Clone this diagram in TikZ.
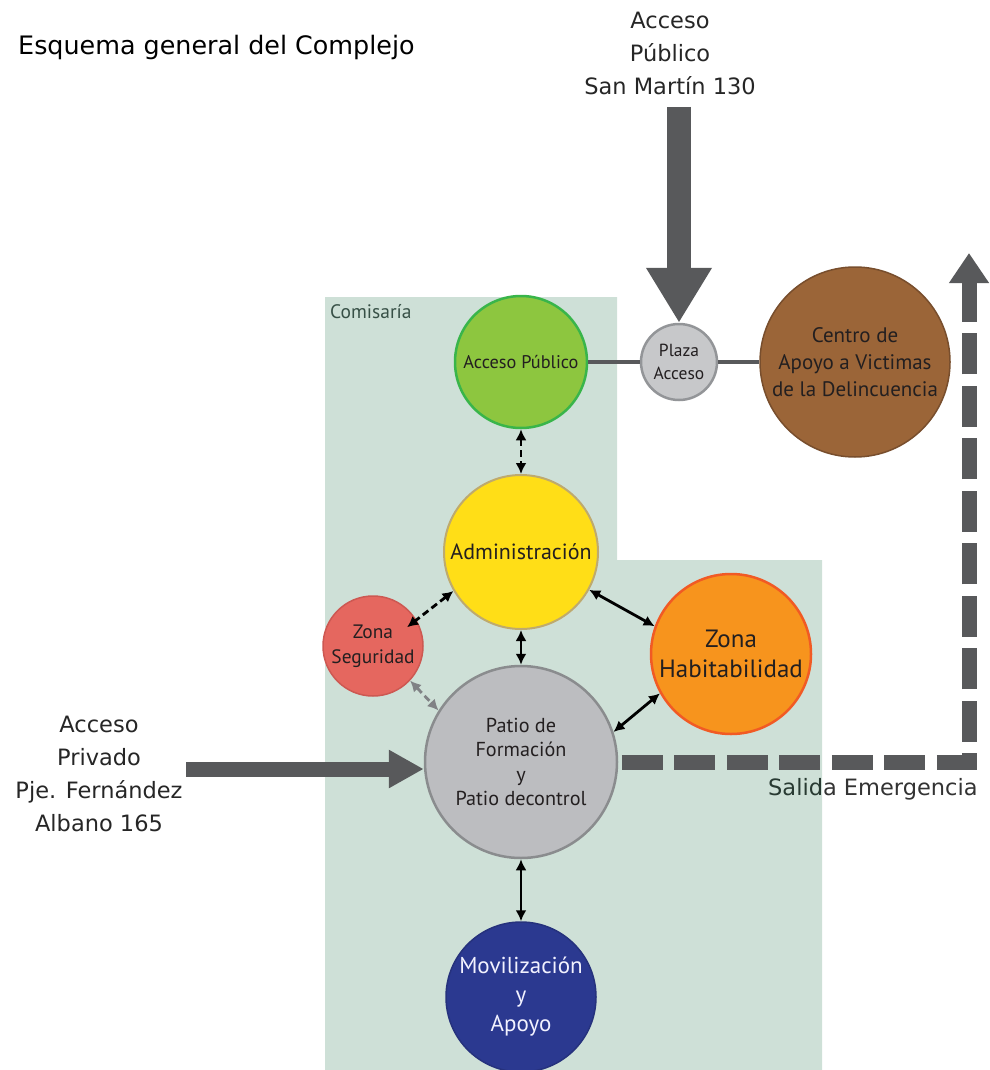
\documentclass[tikz,border=0pt]{standalone}
\usepackage{fontspec}
\setmainfont{DejaVu Sans}
\newfontfamily\innerfont{PT Sans}
\usetikzlibrary{arrows.meta,calc}
\definecolor{bgc}{RGB}{206,224,215}
\definecolor{darkg}{RGB}{88,89,91}
\definecolor{txt}{RGB}{35,31,32}
\definecolor{apfill}{RGB}{141,198,63}
\definecolor{apdraw}{RGB}{57,181,74}
\definecolor{pzfill}{RGB}{199,200,202}
\definecolor{pzdraw}{RGB}{147,149,152}
\definecolor{cafill}{RGB}{155,101,56}
\definecolor{cadraw}{RGB}{120,78,45}
\definecolor{adfill}{RGB}{255,222,23}
\definecolor{addraw}{RGB}{190,170,110}
\definecolor{zsfill}{RGB}{229,103,95}
\definecolor{zsdraw}{RGB}{205,88,82}
\definecolor{zhfill}{RGB}{247,148,29}
\definecolor{zhdraw}{RGB}{241,90,36}
\definecolor{ptfill}{RGB}{188,189,192}
\definecolor{ptdraw}{RGB}{138,140,142}
\definecolor{mvfill}{RGB}{43,57,144}
\definecolor{mvdraw}{RGB}{38,50,125}
\definecolor{comtxt}{RGB}{55,80,70}
\definecolor{saltxt}{RGB}{40,58,50}
\definecolor{gconc}{RGB}{128,130,133}
\tikzset{
  circ/.style={circle, inner sep=0pt, align=center, text=txt},
  outer/.style={align=center, text=black!85},
  conn/.style={black, line width=2.8pt, {Latex[length=11pt,width=11pt]}-{Latex[length=11pt,width=11pt]}},
  dconn/.style={conn, dash pattern=on 7pt off 4pt},
  gconn/.style={dconn, draw=gconc},
  link/.style={draw=darkg, line width=4.5pt},
  bigarrow/.style={draw=darkg},
}
\begin{document}
\begin{tikzpicture}[x=1pt,y=-1pt]
\useasboundingbox (0,0) rectangle (989,1070);
% background zone
\fill[bgc] (325,297) -- (617,297) -- (617,560) -- (822,560) -- (822,1070) -- (325,1070) -- cycle;
\node[anchor=base west, inner sep=0pt, text=comtxt, font=\innerfont\fontsize{19.5}{22}\selectfont] (com) at (330,318) {Comisaría};
% title
\node[anchor=base west, font=\fontsize{25.4}{30}\selectfont, inner sep=0pt] (title) at (18,55) {Esquema general del Complejo};
% outer labels
\node[outer, font=\fontsize{22.5}{33}\selectfont] (tpub) at (670,53.5) {Acceso\\Público\\San Martín 130};
\node[outer, font=\fontsize{22.5}{33}\selectfont] (tpriv) at (99,773.5) {Acceso\\Privado\\Pje. Fernández\\Albano 165};
% circles
\node[circ, minimum size=132pt, fill=apfill, draw=apdraw, line width=2.5pt, font=\innerfont\fontsize{18.3}{20}\selectfont] (ap) at (521,362) {Acceso Público};
\node[circ, minimum size=76pt, fill=pzfill, draw=pzdraw, line width=2.5pt, font=\innerfont\fontsize{17.5}{23}\selectfont] (pz) at (679,362) {Plaza\\Acceso};
\node[circ, minimum size=190pt, fill=cafill, draw=cadraw, line width=1.5pt, font=\innerfont\fontsize{21}{27}\selectfont] (ca) at (855,362) {Centro de\\Apoyo a Victimas\\de la Delincuencia};
\node[circ, minimum size=154pt, fill=adfill, draw=addraw, line width=2pt, font=\innerfont\fontsize{22}{24}\selectfont] (adm) at (521,552) {Administración};
\node[circ, minimum size=100pt, fill=zsfill, draw=zsdraw, line width=1.5pt, font=\innerfont\fontsize{19.4}{25}\selectfont] (seg) at (373,646) {Zona\\Seguridad};
\node[circ, minimum size=160pt, fill=zhfill, draw=zhdraw, line width=2.5pt, font=\innerfont\fontsize{25}{30}\selectfont] (hab) at (731,654) {Zona\\Habitabilidad};
\node[circ, minimum size=192pt, fill=ptfill, draw=ptdraw, line width=2.5pt, font=\innerfont\fontsize{20.2}{24.5}\selectfont] (pat) at (521,762) {Patio de\\Formación\\y\\Patio decontrol};
\node[circ, minimum size=150pt, fill=mvfill, draw=mvdraw, line width=1.5pt, text=blue!5!white, font=\innerfont\fontsize{23}{29}\selectfont] (mov) at (521,997) {Movilización\\y\\Apoyo};
% links
\draw[link] (ap.east) -- (pz.west);
\draw[link] (pz.east) -- (ca.west);
% connectors
\draw[dconn] (ap.south) -- (adm.north);
\draw[dconn, shorten >=-12pt] (adm.210) -- (seg.31);
\draw[conn] (adm.south) -- (pat.north);
\draw[conn] (adm.331) -- (hab.160);
\draw[gconn] (seg.317) -- (pat.148);
\draw[conn] (pat.18) -- (hab.209);
\draw[conn] (pat.south) -- (mov.north);
% big arrows
\coordinate (pubstart) at (679,107);
\draw[bigarrow, line width=24pt, -{Triangle[length=55pt,width=62pt]}] (pubstart) -- (pz.north);
\coordinate (privstart) at (186,769);
\draw[bigarrow, line width=15pt, -{Triangle[length=35pt,width=36pt]}] (privstart) -- (privstart -| pat.west);
% emergency exit
\coordinate (ecorner) at (969,762);
\coordinate (eend) at (969,253);
\draw[bigarrow, line width=15pt, dash pattern=on 41pt off 11.5pt, dash phase=49pt, -{Triangle[length=30pt,width=38pt]}] (pat.east) -- (ecorner) -- (eend);
\node[anchor=base west, inner sep=0pt, font=\fontsize{22.5}{27}\selectfont, text=black!80] (sal) at (768,795) {\textcolor{saltxt}{Salid}a Emergencia};
\end{tikzpicture}
\end{document}
